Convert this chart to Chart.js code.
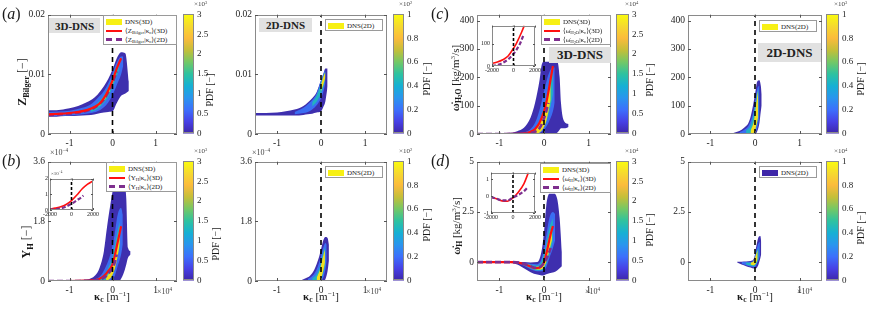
<!DOCTYPE html>
<html><head><meta charset="utf-8">
<script src="https://cdn.jsdelivr.net/npm/chart.js@4.4.0/dist/chart.umd.min.js"></script>
<style>
body{margin:0;background:#fff;width:872px;height:313px;overflow:hidden;position:relative;font-family:'Liberation Serif','DejaVu Serif',serif;}
canvas{position:absolute;}
.t{position:absolute;white-space:nowrap;color:#1a1a1a;line-height:1;}
.rot{transform:translate(-50%,-50%) rotate(-90deg);}
.lg{position:absolute;background:#fff;border:1px solid #9a9a9a;font-size:7px;box-sizing:border-box;padding:1px 2px;color:#222;}
.lg .r{height:9px;display:flex;align-items:center;white-space:nowrap;}
.sw{display:inline-block;width:16px;margin-right:3px;box-sizing:border-box;}
.tag{position:absolute;background:#e1e1e1;font-weight:bold;display:flex;align-items:center;justify-content:center;color:#222;}
sub{font-size:70%;vertical-align:-0.3em;line-height:0;}
sup{font-size:65%;vertical-align:0.55em;line-height:0;}
</style></head><body>
<script>
// ---------------- DATA ----------------
const kTicks = [-1, 0, 1];
const kTickLabels = ['-1', '0', '1'];
const zTicks = [0, 0.01, 0.02];
const zTickLabels = ['0', '0.01', '0.02'];
const yhTicks = [0, 1.8, 3.6];
const yhTickLabels = ['0', '1.8', '3.6'];
const wh2oTicks = [0, 100, 200, 300, 400];
const wh2oTickLabels = ['0', '100', '200', '300', '400'];
const whTicks = [0, 2.5, 5];
const whTickLabels = ['0', '2.5', '5'];
const insetKTicks = [-2000, 0, 2000];
const insetKTickLabels = ['-2000', '0', '2000'];
const insetBTicks = [0, 1, 2];
const insetCTicks = [0, 100];
const insetDTicks = [-1, 0, 1];
const cb3Ticks = [0, 0.5, 1, 1.5, 2, 2.5, 3];
const cb3TickLabels = ['0', '0.5', '1', '1.5', '2', '2.5', '3'];
const cb2Ticks = [0, 0.2, 0.4, 0.6, 0.8, 1];
const cb2TickLabels = ['0', '0.2', '0.4', '0.6', '0.8', '1'];

// PDF bands: [kappa (x1e4 1/m), lower, upper] for decreasing-density contours
// (a) Z_Bilger, 3D
const a3Outer = [[-1.5,0.0029,0.0040],[-1.3,0.0029,0.0040],[-1.1,0.0030,0.0042],[-0.9,0.0030,0.0045],[-0.7,0.0031,0.0050],[-0.5,0.0032,0.0057],[-0.35,0.0034,0.0066],[-0.2,0.0036,0.0080],[-0.1,0.0037,0.0092],[0,0.0038,0.0108],[0.1,0.0052,0.0127],[0.2,0.0064,0.0137],[0.3,0.0068,0.0135],[0.38,0.0072,0.0088]];
const a3Mid = [[-1.5,0.0030,0.0037],[-1.0,0.0031,0.0039],[-0.7,0.0033,0.0044],[-0.5,0.0035,0.0050],[-0.35,0.0038,0.0060],[-0.2,0.0045,0.0072],[-0.1,0.0053,0.0085],[0,0.0065,0.0102],[0.1,0.0082,0.0120],[0.2,0.0100,0.0130],[0.25,0.0115,0.0130]];
const a3Inner = [[-0.5,0.0037,0.0044],[-0.35,0.0042,0.0052],[-0.2,0.0052,0.0065],[-0.1,0.0062,0.0078],[0,0.0078,0.0097],[0.1,0.0097,0.0115],[0.15,0.0107,0.0120]];
const a3Core = [[-0.3,0.0047,0.0053],[-0.2,0.0056,0.0062],[-0.1,0.0067,0.0074],[0,0.0084,0.0092],[0.08,0.0100,0.0108]];
const a3Red = [[-1.5,0.0033],[-1.2,0.0034],[-0.9,0.0036],[-0.6,0.0040],[-0.4,0.0046],[-0.3,0.0051],[-0.2,0.0060],[-0.1,0.0073],[0,0.0090],[0.1,0.0110],[0.2,0.0127]];
const a3Purple = [[-1.5,0.0032],[-1.0,0.0034],[-0.6,0.0039],[-0.4,0.0045],[-0.2,0.0058],[-0.1,0.0070],[0,0.0086],[0.1,0.0105]];
// (a) Z_Bilger, 2D
const a2Outer = [[-1.5,0.0031,0.0035],[-1.0,0.0031,0.0036],[-0.8,0.0031,0.0038],[-0.6,0.0031,0.0041],[-0.4,0.0032,0.0047],[-0.3,0.0033,0.0053],[-0.2,0.0034,0.0060],[-0.1,0.0036,0.0070],[0,0.0038,0.0090],[0.05,0.0045,0.0100],[0.1,0.0055,0.0110],[0.15,0.0080,0.0110]];
const a2Mid = [[-0.6,0.0033,0.0037],[-0.4,0.0035,0.0044],[-0.3,0.0037,0.0050],[-0.2,0.0041,0.0057],[-0.1,0.0048,0.0068],[0,0.0060,0.0090],[0.05,0.0070,0.0100],[0.1,0.0085,0.0108]];
const a2Inner = [[-0.2,0.0046,0.0053],[-0.1,0.0054,0.0064],[0,0.0068,0.0085],[0.05,0.0078,0.0097],[0.1,0.0092,0.0105]];
const a2Core = [[0,0.0072,0.0082],[0.05,0.0082,0.0095],[0.1,0.0095,0.0104]];
// (b) Y_H x1e-4, 3D
const b3Outer = [[-1.5,0,0.03],[-1.0,0,0.03],[-0.6,0,0.04],[-0.5,0,0.08],[-0.4,0,0.17],[-0.3,0,0.4],[-0.2,0,0.9],[-0.13,0,1.6],[-0.05,0,2.3],[0.05,0,2.95],[0.15,0,3.05],[0.25,0.2,3.0],[0.32,0.5,2.5],[0.36,0.7,1.0],[0.42,0.8,0.9]];
const b3Mid = [[-0.45,0,0.03],[-0.35,0,0.08],[-0.25,0,0.2],[-0.15,0,0.45],[-0.05,0.02,0.8],[0.05,0.15,1.4],[0.12,0.45,2.0],[0.2,0.8,2.2],[0.24,1.1,2.0]];
const b3Inner = [[-0.3,0,0.06],[-0.2,0,0.18],[-0.1,0.03,0.4],[0,0.2,0.75],[0.1,0.65,1.4],[0.17,1.05,1.8]];
const b3Core = [[-0.15,0,0.1],[-0.05,0.08,0.3],[0.05,0.35,0.75],[0.12,0.75,1.25],[0.17,1.15,1.65]];
const b3Red = [[-1.5,0],[-1.0,0],[-0.6,0.01],[-0.4,0.03],[-0.3,0.07],[-0.2,0.15],[-0.1,0.3],[0,0.5],[0.05,0.75],[0.1,1.05],[0.15,1.35],[0.2,1.65]];
const b3Purple = [[-1.5,0],[-1.0,0],[-0.6,0.005],[-0.4,0.02],[-0.2,0.1],[-0.1,0.22],[0,0.4],[0.05,0.55],[0.1,0.8]];
// (b) Y_H, 2D
const b2Outer = [[-0.45,0,0.02],[-0.35,0,0.08],[-0.25,0,0.16],[-0.15,0,0.35],[-0.05,0,0.7],[0,0,0.95],[0.05,0,1.22],[0.1,0.05,1.33],[0.15,0.3,1.3],[0.18,0.6,1.1]];
const b2Mid = [[-0.3,0,0.06],[-0.2,0,0.15],[-0.1,0,0.35],[0,0,0.75],[0.05,0.1,1.0],[0.1,0.35,1.15],[0.13,0.6,1.1]];
const b2Inner = [[-0.2,0,0.08],[-0.1,0,0.2],[0,0.05,0.55],[0.05,0.25,0.85],[0.1,0.5,1.05]];
const b2Core = [[-0.1,0,0.1],[-0.02,0.03,0.35],[0.04,0.25,0.7],[0.09,0.55,0.95]];
// (c) omega_H2O, 3D
const c3Outer = [[-1.5,0,3],[-1.0,0,3],[-0.7,0,5],[-0.6,0,10],[-0.45,0,22],[-0.3,0,58],[-0.2,0,110],[-0.1,0,190],[-0.05,0,245],[0,0,255],[0.1,0,255],[0.2,0,255],[0.3,5,255],[0.35,15,200],[0.38,20,110],[0.45,20,45],[0.55,25,35]];
const c3Mid = [[-0.6,0,3],[-0.4,0,8],[-0.3,0,18],[-0.2,0,40],[-0.1,3,85],[0,15,150],[0.1,40,210],[0.2,80,235],[0.24,110,235]];
const c3Inner = [[-0.35,0,5],[-0.25,0,14],[-0.15,3,32],[-0.05,18,70],[0.05,45,130],[0.15,100,200],[0.2,140,228]];
const c3Core = [[-0.2,0,15],[-0.1,5,35],[0,25,80],[0.05,45,120],[0.1,80,160],[0.15,120,200]];
const c3Red = [[-1.5,0],[-1.0,0],[-0.6,0.5],[-0.4,3],[-0.3,8],[-0.2,18],[-0.1,40],[0,80],[0.05,110],[0.1,150],[0.15,195],[0.2,240]];
const c3Purple = [[-1.5,0],[-1.0,0],[-0.6,0],[-0.4,1],[-0.2,8],[-0.1,20],[0,55],[0.05,80],[0.1,110]];
// (c) omega_H2O, 2D
const c2Outer = [[-0.5,0,3],[-0.4,0,8],[-0.3,0,15],[-0.2,0,28],[-0.15,0,38],[-0.1,0,60],[-0.05,0,96],[0,0,140],[0.05,10,185],[0.1,40,190],[0.13,80,170],[0.15,100,140]];
const c2Mid = [[-0.35,0,6],[-0.25,0,14],[-0.15,0,28],[-0.05,0,70],[0,5,110],[0.05,20,160],[0.1,60,170]];
const c2Inner = [[-0.2,0,12],[-0.1,0,30],[-0.03,10,70],[0.03,30,130],[0.08,60,160]];
const c2Core = [[-0.1,0,10],[-0.02,5,50],[0.03,30,110],[0.07,60,155]];
// (d) omega_H, 3D
const d3Outer = [[-1.5,-0.03,0.03],[-0.8,-0.03,0.03],[-0.6,-0.12,0.02],[-0.45,-0.3,0.0],[-0.3,-0.5,-0.02],[-0.15,-0.62,0.0],[-0.05,-0.66,0.6],[0,-0.65,1.5],[0.05,-0.6,2.8],[0.12,-0.55,3.4],[0.22,-0.5,3.4],[0.3,-0.4,3.1],[0.35,-0.3,2.2],[0.4,-0.2,0.5]];
const d3Mid = [[-0.6,-0.05,0.0],[-0.45,-0.18,-0.03],[-0.3,-0.35,-0.08],[-0.15,-0.45,-0.1],[-0.05,-0.45,0.2],[0.05,-0.25,1.3],[0.12,0.2,2.2],[0.2,0.7,2.5],[0.25,1.1,2.4]];
const d3Inner = [[-0.45,-0.14,-0.04],[-0.3,-0.3,-0.12],[-0.15,-0.42,-0.18],[-0.05,-0.4,0.05],[0.05,-0.1,0.9],[0.12,0.4,1.7],[0.2,1.0,2.2]];
const d3Core = [[-0.35,-0.22,-0.12],[-0.2,-0.36,-0.24],[-0.1,-0.38,-0.22],[-0.02,-0.3,0.0],[0.05,0.0,0.6],[0.12,0.6,1.3],[0.18,1.1,1.8]];
const d3Red = [[-1.5,0],[-1.0,0],[-0.7,0],[-0.5,-0.06],[-0.4,-0.13],[-0.3,-0.22],[-0.2,-0.3],[-0.1,-0.28],[0,0],[0.05,0.4],[0.1,0.9],[0.15,1.4],[0.2,1.8]];
const d3Purple = [[-1.5,0],[-1.0,0],[-0.7,0],[-0.5,-0.05],[-0.3,-0.2],[-0.2,-0.28],[-0.1,-0.25],[0,-0.05],[0.05,0.15],[0.1,0.4],[0.15,0.7]];
// (d) omega_H, 2D
const d2Outer = [[-0.4,-0.02,0.02],[-0.3,-0.12,0.02],[-0.2,-0.2,0.03],[-0.1,-0.27,0.05],[-0.02,-0.32,0.2],[0.03,-0.3,0.8],[0.08,-0.1,1.25],[0.12,0.2,1.3],[0.14,0.4,1.0]];
const d2Mid = [[-0.3,-0.08,0.0],[-0.2,-0.15,0.0],[-0.1,-0.22,0.0],[-0.02,-0.26,0.15],[0.03,-0.15,0.6],[0.08,0.1,0.95],[0.11,0.3,1.0]];
const d2Inner = [[-0.2,-0.12,-0.02],[-0.1,-0.18,-0.03],[-0.02,-0.2,0.1],[0.03,-0.08,0.45],[0.08,0.15,0.75]];
const d2Core = [[-0.1,-0.12,-0.04],[-0.03,-0.15,0.05],[0.02,-0.05,0.35],[0.06,0.15,0.6]];
// insets: kappa in 1/m
const bInsetRed = [[-2000,0.05],[-1500,0.12],[-1000,0.2],[-500,0.35],[0,0.6],[500,0.95],[1000,1.35],[1500,1.65],[2000,1.85]];
const bInsetPurple = [[-2000,0.02],[-1500,0.05],[-1000,0.1],[-500,0.22],[0,0.4],[500,0.62],[1000,0.85],[1100,0.92]];
const cInsetRed = [[-2000,12],[-1500,18],[-1000,28],[-500,45],[0,80],[250,100],[500,125],[750,152],[1000,182]];
const cInsetPurple = [[-2000,0],[-1500,5],[-1000,14],[-500,30],[0,55],[300,75],[600,100],[900,135]];
const dInsetRed = [[-2000,-0.05],[-1500,-0.15],[-1000,-0.28],[-500,-0.3],[0,-0.1],[500,0.25],[1000,0.75],[1400,1.4]];
const dInsetPurple = [[-2000,-0.05],[-1500,-0.15],[-1000,-0.25],[-500,-0.25],[0,-0.08],[500,0.08],[1000,0.3],[1300,0.5]];

// ---------------- STYLE ----------------
const PARULA = [[0,'#3e26a8'],[0.1,'#4740e5'],[0.2,'#3d6ffc'],[0.3,'#2a95ee'],[0.4,'#16b0d4'],[0.5,'#2ec2a0'],[0.6,'#73c866'],[0.7,'#c4bf39'],[0.8,'#fbbb3c'],[0.9,'#f6d92f'],[1,'#f9fb0e']];
const BANDCOL = ['#f2de1e', '#22b3bf', '#3b6df2', '#3e2fae']; // core, inner, mid, outer
const RED = '#ff1010', PUR = '#7e2f8e';
const FONT = "'Liberation Serif','DejaVu Serif',serif";
Chart.defaults.font.family = FONT;
Chart.defaults.color = '#222';
Chart.defaults.animation = false;

const boxPlugin = {
  id: 'box',
  beforeDatasetsDraw(c, args, o) {
    if (o.white) { const a = c.chartArea; c.ctx.save(); c.ctx.fillStyle = '#fff'; c.ctx.fillRect(a.left, a.top, a.width, a.height); c.ctx.restore(); }
  },
  afterDatasetsDraw(c, args, o) {
    const { ctx, chartArea: a } = c;
    ctx.save();
    ctx.strokeStyle = o.color || '#8a8a8a'; ctx.lineWidth = 1;
    ctx.strokeRect(Math.round(a.left) + 0.5, Math.round(a.top) + 0.5, Math.round(a.width) - 1, Math.round(a.height) - 1);
    if (o.ticks) {
      const tl = o.tl || 3;
      ctx.strokeStyle = '#555';
      ctx.beginPath();
      c.scales.x.ticks.forEach(t => { const px = Math.round(c.scales.x.getPixelForValue(t.value)) + 0.5; ctx.moveTo(px, a.bottom); ctx.lineTo(px, a.bottom - tl); ctx.moveTo(px, a.top); ctx.lineTo(px, a.top + tl); });
      c.scales.y.ticks.forEach(t => { const py = Math.round(c.scales.y.getPixelForValue(t.value)) + 0.5; ctx.moveTo(a.left, py); ctx.lineTo(a.left + tl, py); ctx.moveTo(a.right, py); ctx.lineTo(a.right - tl, py); });
      ctx.stroke();
    }
    ctx.restore();
  }
};

function mk(l, t, w, h, z) {
  const cv = document.createElement('canvas');
  cv.width = w; cv.height = h;
  cv.style.left = l + 'px'; cv.style.top = t + 'px'; cv.style.width = w + 'px'; cv.style.height = h + 'px';
  if (z) cv.style.zIndex = z;
  document.body.appendChild(cv);
  return cv;
}
const pts = a => (a || []).map(q => ({ x: q[0], y: q[1] }));
function lbl(ticks, labels) { return v => { const i = ticks.findIndex(t => Math.abs(t - v) < 1e-9); return i >= 0 ? labels[i] : ''; }; }

function plot(p) {
  const m = p.m || { L: 30, T: 8, R: 4, B: 16 };
  const [l, t, r, b] = p.box;
  const cv = mk(l - m.L, t - m.T, r - l + m.L + m.R, b - t + m.T + m.B, p.z);
  const ds = [];
  ds.push({ data: [{ x: 0, y: p.yr[0] }, { x: 0, y: p.yr[1] }], borderColor: '#000', borderWidth: p.vw || 1.6, borderDash: p.vd || [5, 4], pointRadius: 0, fill: false, tension: 0 });
  if (p.red) {
    const red = { data: pts(p.red), borderColor: RED, borderWidth: p.rw || 2.2, pointRadius: 0, fill: false, cubicInterpolationMode: 'monotone' };
    const pur = { data: pts(p.pur), borderColor: PUR, borderWidth: p.pw || 2.6, borderDash: p.pd || [6, 3], pointRadius: 0, fill: false, cubicInterpolationMode: 'monotone' };
    if (p.redTop) ds.push(red, pur); else ds.push(pur, red);
  }
  (p.bands || []).forEach((arr, i) => {
    ds.push({ data: arr.map(q => ({ x: q[0], y: q[2] })), borderColor: 'rgba(0,0,0,0)', borderWidth: 0, pointRadius: 0, fill: false, cubicInterpolationMode: 'monotone' });
    ds.push({ data: arr.map(q => ({ x: q[0], y: q[1] })), borderColor: 'rgba(0,0,0,0)', borderWidth: 0, pointRadius: 0, backgroundColor: BANDCOL[i], fill: '-1', cubicInterpolationMode: 'monotone' });
  });
  const fs = p.fs || 9.5;
  new Chart(cv, {
    type: 'line',
    data: { datasets: ds },
    options: {
      responsive: false, animation: false, devicePixelRatio: 1,
      layout: { padding: { top: m.T, right: m.R, left: 0, bottom: 0 } },
      plugins: { legend: { display: false }, tooltip: { enabled: false }, box: { ticks: true, white: p.white, tl: p.tl } },
      scales: {
        x: { type: 'linear', min: p.xr[0], max: p.xr[1], afterBuildTicks: ax => { ax.ticks = p.xt.map(v => ({ value: v })); }, afterFit: ax => { ax.height = m.B; },
             grid: { display: false, drawTicks: false }, border: { display: false }, ticks: { padding: p.xpad || 4, autoSkip: false, maxRotation: 0, font: { size: fs }, callback: lbl(p.xt, p.xl) } },
        y: { type: 'linear', min: p.yr[0], max: p.yr[1], afterBuildTicks: ax => { ax.ticks = p.yt.map(v => ({ value: v })); }, afterFit: ax => { ax.width = m.L; },
             grid: { display: false, drawTicks: false }, border: { display: false }, ticks: { padding: p.ypad || 3, autoSkip: false, font: { size: fs }, callback: lbl(p.yt, p.yl) } }
      }
    },
    plugins: [boxPlugin]
  });
}

function colorbar(box, max, ticks, labels) {
  const [l, t, r, b] = box; const LW = 24, T = 8, Bp = 8;
  const cv = mk(l, t - T, r - l + LW, b - t + T + Bp);
  new Chart(cv, {
    type: 'bar',
    data: { labels: ['pdf'], datasets: [{ data: [[0, max]], borderWidth: 0, barPercentage: 1, categoryPercentage: 1,
      backgroundColor: ctx => { const a = ctx.chart.chartArea; if (!a) return '#3e26a8'; const g = ctx.chart.ctx.createLinearGradient(0, a.bottom, 0, a.top); PARULA.forEach(s => g.addColorStop(s[0], s[1])); return g; } }] },
    options: {
      responsive: false, animation: false, devicePixelRatio: 1,
      layout: { padding: { top: T, bottom: Bp, left: 0, right: 0 } },
      plugins: { legend: { display: false }, tooltip: { enabled: false }, box: { ticks: false, color: '#8a8a8a' } },
      scales: {
        x: { display: false },
        y: { position: 'right', min: 0, max: max, afterBuildTicks: ax => { ax.ticks = ticks.map(v => ({ value: v })); }, afterFit: ax => { ax.width = LW; },
             grid: { display: false, drawTicks: false }, border: { display: false }, ticks: { padding: 3, autoSkip: false, font: { size: 9 }, callback: lbl(ticks, labels) } }
      }
    },
    plugins: [boxPlugin]
  });
}

// ---------------- BUILD ----------------
const XR = [-1.5, 1.5];
const common = { xr: XR, xt: kTicks, xl: kTickLabels };
const B4 = (o, i, m, c) => [c, i, m, o];
plot({ ...common, box: [48, 14, 177, 134], yr: [0, 0.02], yt: zTicks, yl: zTickLabels, bands: B4(a3Outer, a3Inner, a3Mid, a3Core), red: a3Red, pur: a3Purple, redTop: true });
plot({ ...common, box: [255, 14, 387, 134], yr: [0, 0.02], yt: zTicks, yl: zTickLabels, bands: B4(a2Outer, a2Inner, a2Mid, a2Core) });
plot({ ...common, box: [477, 14, 611, 134], yr: [0, 421], yt: wh2oTicks, yl: wh2oTickLabels, bands: B4(c3Outer, c3Inner, c3Mid, c3Core), red: c3Red, pur: c3Purple });
plot({ ...common, box: [688, 14, 822, 134], yr: [0, 421], yt: wh2oTicks, yl: wh2oTickLabels, bands: B4(c2Outer, c2Inner, c2Mid, c2Core) });
plot({ ...common, box: [48, 161, 177, 281], yr: [0, 3.6], yt: yhTicks, yl: yhTickLabels, bands: B4(b3Outer, b3Inner, b3Mid, b3Core), red: b3Red, pur: b3Purple });
plot({ ...common, box: [255, 161, 387, 281], yr: [0, 3.6], yt: yhTicks, yl: yhTickLabels, bands: B4(b2Outer, b2Inner, b2Mid, b2Core) });
plot({ ...common, box: [477, 161, 611, 281], yr: [-0.94, 5], yt: whTicks, yl: whTickLabels, bands: B4(d3Outer, d3Inner, d3Mid, d3Core), red: d3Red, pur: d3Purple });
plot({ ...common, box: [688, 161, 822, 281], yr: [-0.94, 5], yt: whTicks, yl: whTickLabels, bands: B4(d2Outer, d2Inner, d2Mid, d2Core) });

colorbar([183, 14, 194, 134], 3, cb3Ticks, cb3TickLabels);
colorbar([393, 14, 404, 134], 1, cb2Ticks, cb2TickLabels);
colorbar([616, 14, 629, 134], 3, cb3Ticks, cb3TickLabels);
colorbar([826, 14, 839, 134], 1, cb2Ticks, cb2TickLabels);
colorbar([183, 161, 194, 281], 3, cb3Ticks, cb3TickLabels);
colorbar([393, 161, 404, 281], 1, cb2Ticks, cb2TickLabels);
colorbar([616, 161, 629, 281], 3, cb3Ticks, cb3TickLabels);
colorbar([826, 161, 839, 281], 1, cb2Ticks, cb2TickLabels);

const im = { L: 16, T: 5, R: 9, B: 9 };
const inset = { xr: [-2000, 2000], xt: insetKTicks, xl: insetKTickLabels, m: im, fs: 6, white: true, z: 5, xpad: 1, ypad: 2, tl: 2, vw: 1.6, vd: [3, 2], rw: 1.6, pw: 2.2, pd: [4, 2] };
plot({ ...inset, box: [50, 178, 93, 210], yr: [0, 2], yt: insetBTicks, yl: ['0', '1', '2'], red: bInsetRed, pur: bInsetPurple });
plot({ ...inset, box: [492, 25, 535, 66], yr: [0, 182], yt: insetCTicks, yl: ['0', '100'], red: cInsetRed, pur: cInsetPurple });
plot({ ...inset, box: [491, 172, 535, 213], yr: [-1, 1.4], yt: insetDTicks, yl: ['-1', '0', '1'], red: dInsetRed, pur: dInsetPurple });

// ---------------- TEXT ----------------
function txt(html, l, t, css) {
  const d = document.createElement('div'); d.className = 't'; d.innerHTML = html;
  d.style.left = l + 'px'; d.style.top = t + 'px'; d.style.zIndex = 10;
  if (css) d.style.cssText += css;
  document.body.appendChild(d); return d;
}
function rtxt(html, cx, cy, css) { const d = txt(html, cx, cy, css); d.classList.add('rot'); return d; }
function tag(s, l, t, w, h, fs) {
  const d = document.createElement('div'); d.className = 'tag'; d.textContent = s;
  d.style.cssText += `left:${l}px;top:${t}px;width:${w}px;height:${h}px;font-size:${fs}px;z-index:8;`;
  document.body.appendChild(d);
}
function legend(l, t, w, h, rows) {
  const d = document.createElement('div'); d.className = 'lg';
  d.style.cssText += `left:${l}px;top:${t}px;width:${w}px;height:${h}px;z-index:9;`;
  rows.forEach(([kind, col, html]) => {
    const r = document.createElement('div'); r.className = 'r';
    const s = document.createElement('span'); s.className = 'sw';
    if (kind === 'patch') s.style.cssText += `height:6px;background:${col};`;
    else if (kind === 'line') s.style.cssText += `height:0;border-top:2px solid ${col};`;
    else s.style.cssText += `height:0;border-top:3px dashed ${col};`;
    r.appendChild(s);
    const sp = document.createElement('span'); sp.innerHTML = html; r.appendChild(sp);
    d.appendChild(r);
  });
  document.body.appendChild(d);
}

// panel letters
txt('(<i>a</i>)', 2, 6, 'font-size:16px;');
txt('(<i>b</i>)', 2, 153, 'font-size:16px;');
txt('(<i>c</i>)', 431, 6, 'font-size:16px;');
txt('(<i>d</i>)', 431, 153, 'font-size:16px;');

// y titles
rtxt('<b>Z<sub>Bilger</sub></b> [−]', 22, 82, 'font-size:12px;');
rtxt('<b>Y<sub>H</sub></b> [−]', 26, 242, 'font-size:12px;');
rtxt('<b>ω̇<sub>H<sub>2</sub>O</sub></b> [kg/m<sup>3</sup>/s]', 455, 78, 'font-size:11px;');
rtxt('<b>ω̇<sub>H</sub></b> [kg/m<sup>3</sup>/s]', 456, 226, 'font-size:11px;');

// colorbar titles
[[210, 90], [427, 79], [650, 80], [861, 79], [216, 244], [427, 225], [650, 230], [861, 228]].forEach(([x, y]) => rtxt('PDF [−]', x, y, 'font-size:10px;'));
// colorbar exponents
[[194, 1, '3'], [399, 1, '2'], [625, 1, '4'], [834, 1, '3'], [194, 148, '3'], [399, 148, '2'], [625, 148, '4'], [834, 148, '4']]
  .forEach(([x, y, e]) => txt('×10<sup>' + e + '</sup>', x, y, 'font-size:7px;color:#444;'));

// x titles
[[112, 296], [321, 296], [544, 296], [755, 296]].forEach(([x, y]) => { const d = txt('<b>κ<sub>c</sub></b> [m<sup>−1</sup>]', x, y, 'font-size:11px;'); d.style.transform = 'translate(-50%,-50%)'; });
[[157, 288], [366, 288], [585, 288], [797, 288]].forEach(([x, y]) => txt('×10<sup>4</sup>', x, y, 'font-size:8px;color:#444;'));
txt('×10<sup>−4</sup>', 50, 149, 'font-size:8px;color:#444;');
txt('×10<sup>−4</sup>', 252, 149, 'font-size:8px;color:#444;');
txt('×10<sup>−4</sup>', 51, 171, 'font-size:5px;color:#444;');

// DNS tags
tag('3D-DNS', 49, 18, 51, 15, 11);
tag('2D-DNS', 259, 18, 53, 14, 11);
tag('3D-DNS', 549, 47, 62, 16, 13);
tag('2D-DNS', 758, 43, 63, 19, 13);

// legends
const kc = 'κ<sub>c</sub>';
legend(103, 15, 74, 30, [['patch', '#f7f014', 'DNS(3D)'], ['line', RED, `⟨Z<sub>Bilger</sub>|${kc}⟩(3D)`], ['dash', PUR, `⟨Z<sub>Bilger</sub>|${kc}⟩(2D)`]]);
legend(541, 15, 70, 30, [['patch', '#f7f014', 'DNS(3D)'], ['line', RED, `⟨ω̇<sub>H<sub>2</sub>O</sub>|${kc}⟩(3D)`], ['dash', PUR, `⟨ω̇<sub>H<sub>2</sub>O</sub>|${kc}⟩(2D)`]]);
legend(106, 162, 71, 30, [['patch', '#f7f014', 'DNS(3D)'], ['line', RED, `⟨Y<sub>H</sub>|${kc}⟩(3D)`], ['dash', PUR, `⟨Y<sub>H</sub>|${kc}⟩(2D)`]]);
legend(540, 163, 71, 30, [['patch', '#f7f014', 'DNS(3D)'], ['line', RED, `⟨ω̇<sub>H</sub>|${kc}⟩(3D)`], ['dash', PUR, `⟨ω̇<sub>H</sub>|${kc}⟩(2D)`]]);
legend(325, 19, 58, 12, [['patch', '#f7f014', 'DNS(2D)']]);
legend(759, 20, 58, 12, [['patch', '#f7f014', 'DNS(2D)']]);
legend(325, 166, 58, 12, [['patch', '#f7f014', 'DNS(2D)']]);
legend(759, 166, 58, 12, [['patch', '#3e26a8', 'DNS(2D)']]);
</script>
</body></html>
